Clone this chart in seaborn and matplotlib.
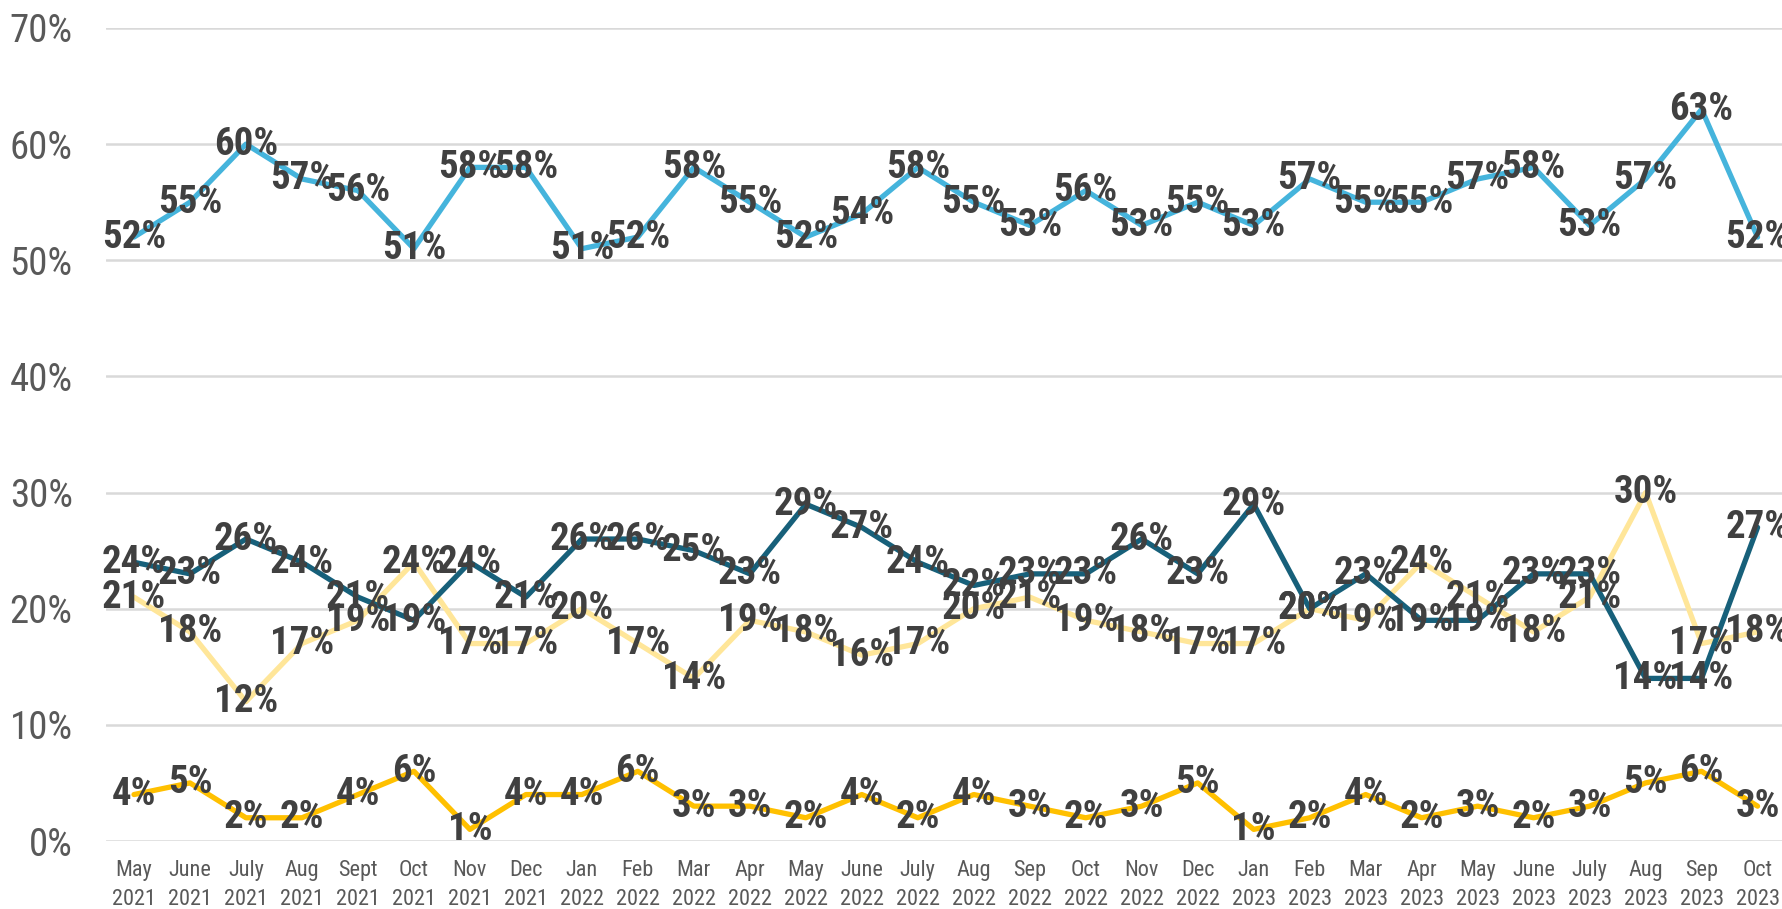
import pandas as pd
import matplotlib.pyplot as plt
import matplotlib.font_manager as fm
import seaborn as sns
import numpy as np

# months on the category axis
months = ['May', 'June', 'July', 'Aug', 'Sept', 'Oct', 'Nov', 'Dec',
          'Jan', 'Feb', 'Mar', 'Apr', 'May', 'June', 'July', 'Aug', 'Sep', 'Oct', 'Nov', 'Dec',
          'Jan', 'Feb', 'Mar', 'Apr', 'May', 'June', 'July', 'Aug', 'Sep', 'Oct']
years = ['2021'] * 8 + ['2022'] * 12 + ['2023'] * 10

# series values (%)
light_blue = [52, 55, 60, 57, 56, 51, 58, 58, 51, 52, 58, 55, 52, 54, 58,
              55, 53, 56, 53, 55, 53, 57, 55, 55, 57, 58, 53, 57, 63, 52]
dark_teal = [24, 23, 26, 24, 21, 19, 24, 21, 26, 26, 25, 23, 29, 27, 24,
             22, 23, 23, 26, 23, 29, 20, 23, 19, 19, 23, 23, 14, 14, 27]
light_yellow = [21, 18, 12, 17, 19, 24, 17, 17, 20, 17, 14, 19, 18, 16, 17,
                20, 21, 19, 18, 17, 17, 20, 19, 24, 21, 18, 21, 30, 17, 18]
gold = [4, 5, 2, 2, 4, 6, 1, 4, 4, 6, 3, 3, 2, 4, 2,
        4, 3, 2, 3, 5, 1, 2, 4, 2, 3, 2, 3, 5, 6, 3]

series = {'s1': light_blue, 's2': dark_teal, 's3': light_yellow, 's4': gold}
colors = {'s1': '#45B4DC', 's2': '#17607A', 's3': '#FFE699', 's4': '#FFC000'}

rows = []
for name, vals in series.items():
    for i, v in enumerate(vals):
        rows.append({'idx': i, 'value': v / 100, 'series': name})
df = pd.DataFrame(rows)

# look for a narrow font (the original uses Calibri)
fonts = fm.fontManager.ttflist
names = {f.name for f in fonts}
family, stretch = 'Liberation Sans', 'normal'
for cand in ['Liberation Sans Narrow', 'Roboto Condensed', 'Open Sans Condensed',
             'Noto Sans Condensed', 'DejaVu Sans Condensed']:
    if cand in names:
        family = cand
        break
else:
    for f in fonts:
        if f.name in ('Noto Sans', 'Open Sans', 'DejaVu Sans', 'Roboto') and \
                str(f.stretch) in ('condensed', 'semi-condensed', '87.5', '75', '500'):
            family, stretch = f.name, 'condensed'
            break

sns.set_style('white')
plt.rcParams['font.family'] = [family, 'DejaVu Sans']
plt.rcParams['font.stretch'] = stretch

fig = plt.figure(figsize=(17.82, 9.09), dpi=100)
ax = fig.add_axes([106 / 1782, 1 - 841 / 909, 1 - 106 / 1782 + 0.002, (841 - 28) / 909])

sns.lineplot(data=df, x='idx', y='value', hue='series', palette=colors,
             hue_order=['s3', 's2', 's4', 's1'], linewidth=3.8, sort=False,
             legend=False, ax=ax, zorder=3)

# data labels centred on the points
for name, vals in series.items():
    for i, v in enumerate(vals):
        ax.text(i, v / 100, f'{v}%', ha='center', va='center', fontsize=28,
                fontweight='bold', color='#404040', zorder=5, clip_on=False)

ax.set_xlim(-0.5, 29.5)
ax.set_ylim(0, 0.70)
ax.set_yticks(np.arange(0, 0.71, 0.1))
ax.set_yticklabels([f'{int(round(t * 100))}%' for t in np.arange(0, 0.71, 0.1)])
ax.set_xticks(range(len(months)))
ax.set_xticklabels([f'{m}\n{y}' for m, y in zip(months, years)], linespacing=1.45)

ax.tick_params(axis='y', labelsize=28, colors='#595959', length=0, pad=24)
ax.tick_params(axis='x', labelsize=16, colors='#595959', length=0, pad=14)
ax.grid(axis='y', color='#D9D9D9', linewidth=1.8, zorder=0)
ax.set_axisbelow(True)
for s in ax.spines.values():
    s.set_visible(False)
ax.set_xlabel('')
ax.set_ylabel('')

fig.savefig('out.png', dpi=100)
